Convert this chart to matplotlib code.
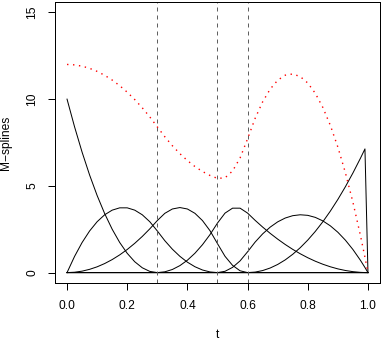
import matplotlib
matplotlib.use("Agg")
import matplotlib.pyplot as plt

plt.rcParams['font.family'] = ['Liberation Sans', 'DejaVu Sans']

# evaluation grid
t = [0.0, 0.025, 0.05, 0.075, 0.1, 0.125, 0.15, 0.175, 0.2, 0.225,
     0.25, 0.275, 0.3, 0.325, 0.35, 0.375, 0.4, 0.425, 0.45, 0.475,
     0.5, 0.525, 0.55, 0.575, 0.6, 0.625, 0.65, 0.675, 0.7, 0.725,
     0.75, 0.775, 0.8, 0.825, 0.85, 0.875, 0.9, 0.925, 0.95, 0.975,
     0.99, 1.0]

knots = [0.3, 0.5, 0.6]

# M-spline basis values (degree 2)
m1 = [10, 8.403, 6.944, 5.625, 4.444, 3.403, 2.5, 1.736, 1.111, 0.625,
      0.278, 0.069, 0] + [0] * 29
m2 = [0, 0.933, 1.733, 2.4, 2.933, 3.333, 3.6, 3.733, 3.733, 3.6,
      3.333, 2.933, 2.4, 1.838, 1.35, 0.938, 0.6, 0.338, 0.15, 0.038,
      0] + [0] * 21
m3 = [0, 0.021, 0.083, 0.188, 0.333, 0.521, 0.75, 1.021, 1.333, 1.688,
      2.083, 2.521, 3.0, 3.417, 3.667, 3.75, 3.667, 3.417, 3.0, 2.417,
      1.667, 0.938, 0.417, 0.104, 0] + [0] * 17
m4 = [0] * 12 + [0, 0.045, 0.179, 0.402, 0.714, 1.116, 1.607, 2.188, 2.857,
                 3.429, 3.714, 3.714, 3.429,
                 3.013, 2.625, 2.263, 1.929, 1.621, 1.339, 1.085, 0.857,
                 0.656, 0.482, 0.335, 0.214, 0.121, 0.054, 0.013, 0.002, 0]
m5 = [0] * 20 + [0, 0.075, 0.3, 0.675, 1.2,
                 1.758, 2.231, 2.62, 2.925, 3.145, 3.281, 3.333, 3.3,
                 3.183, 2.981, 2.695, 2.325, 1.87, 1.331, 0.708, 0.293, 0]
m6 = [0] * 25 + [0.029, 0.117, 0.264, 0.469, 0.732, 1.055, 1.436, 1.875,
                 2.373, 2.93, 3.545, 4.219, 4.951, 5.742, 6.592, 7.13, 0]

# weighted sum of the basis
fit = [12.0, 11.975, 11.9, 11.775, 11.6, 11.375, 11.1, 10.775, 10.4, 9.975,
       9.5, 8.975, 8.4, 7.829, 7.314, 6.857, 6.457, 6.114, 5.829, 5.6,
       5.429, 5.464, 5.857, 6.607, 7.714, 8.89, 9.844, 10.577, 11.089, 11.381,
       11.451, 11.3, 10.929, 10.336, 9.522, 8.488, 7.232, 5.756, 4.058, 2.139,
       0.882, 0]

W, H = 383, 348
fig = plt.figure(figsize=(W / 100, H / 100), dpi=100)
ax = fig.add_axes([55 / W, 1 - 283 / H, 325 / W, 281 / H])

lw = 0.72
for m in [m1, m2, m3, m4, m5, m6]:
    ax.plot(t, m, color='black', lw=lw)

for k in knots:
    ax.axvline(k, color='#606060', lw=lw, linestyle=(0, (4, 4)))

ax.plot(t, fit, color='red', lw=1.0, linestyle=(0, (1, 3.3)))

ax.set_xlim(-0.04, 1.04)
ax.set_ylim(-0.6, 15.6)
ax.set_xticks([0.0, 0.2, 0.4, 0.6, 0.8, 1.0])
ax.set_xticklabels(['0.0', '0.2', '0.4', '0.6', '0.8', '1.0'])
ax.set_yticks([0, 5, 10, 15])
ax.set_yticklabels(['0', '5', '10', '15'], rotation=90, va='center')

for s in ax.spines.values():
    s.set_linewidth(lw)
    s.set_color('black')
ax.tick_params(length=5, width=lw, labelsize=8.64, color='black')
ax.tick_params(axis='x', pad=7.5)
ax.tick_params(axis='y', pad=7)

fig.text(217.5 / W, 1 - 338 / H, 't', ha='center', va='baseline', fontsize=8.64)
fig.text(6 / W, 1 - 142.5 / H, 'M\u2212splines', ha='center', va='center',
         rotation=90, fontsize=8.64)

fig.savefig('out.png', dpi=100)
